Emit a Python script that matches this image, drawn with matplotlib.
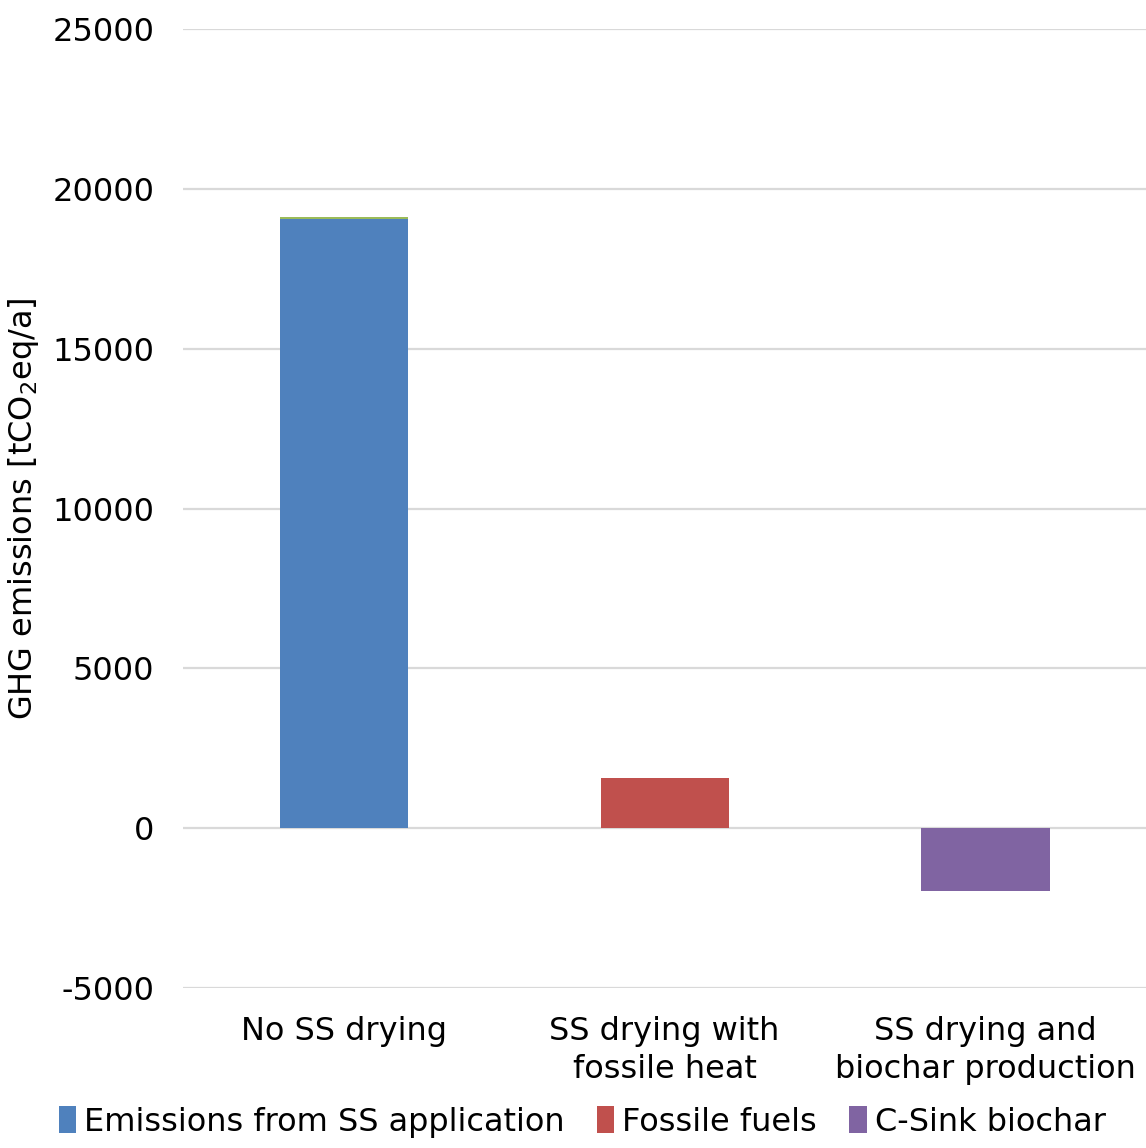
import matplotlib
matplotlib.use("Agg")
import matplotlib.pyplot as plt
import numpy as np

# scenarios and emission contributions (tCO2eq/a)
categories = ["No SS drying", "SS drying with\nfossile heat", "SS drying and\nbiochar production"]
ss_application = [19060, 0, 0]
other = [50, 0, 0]
fossile_fuels = [0, 1570, 0]
c_sink = [0, 0, -1960]

plt.rcParams['font.family'] = ['DejaVu Sans']
plt.rcParams['axes.unicode_minus'] = False

fs = 23

fig = plt.figure(figsize=(11.46, 11.48), dpi=100)
ax = fig.add_axes([0.16, 0.1394, 0.84, 0.8353])

x = np.arange(len(categories))
w = 0.4
ax.bar(x, ss_application, w, color='#4f81bd', label='Emissions from SS application', zorder=3)
ax.bar(x, other, w, bottom=ss_application, color='#9bbb59', zorder=3)
ax.bar(x, fossile_fuels, w, color='#c0504d', label='Fossile fuels', zorder=3)
ax.bar(x, c_sink, w, color='#8064a2', label='C-Sink biochar', zorder=3)

ax.set_xlim(-0.5, 2.5)
ax.set_ylim(-5000, 25000)
ax.set_yticks(range(-5000, 25001, 5000))
ax.grid(axis='y', color='#d9d9d9', linewidth=1.6, zorder=0)
for s in ax.spines.values():
    s.set_visible(False)
ax.tick_params(length=0, labelsize=fs, colors='black', pad=21)
ax.tick_params(axis='x', pad=20)
ax.set_xticks(x)
ax.set_xticklabels(categories, linespacing=1.3)
ax.set_ylabel('GHG emissions [tCO$_2$eq/a]', fontsize=fs, labelpad=8)

fig.legend(loc='lower center', bbox_to_anchor=(0.508, -0.016), ncol=3, frameon=False,
           fontsize=fs, handlelength=0.55, handleheight=0.9, handletextpad=0.25,
           columnspacing=1.0)

fig.savefig('out.png', dpi=100)
